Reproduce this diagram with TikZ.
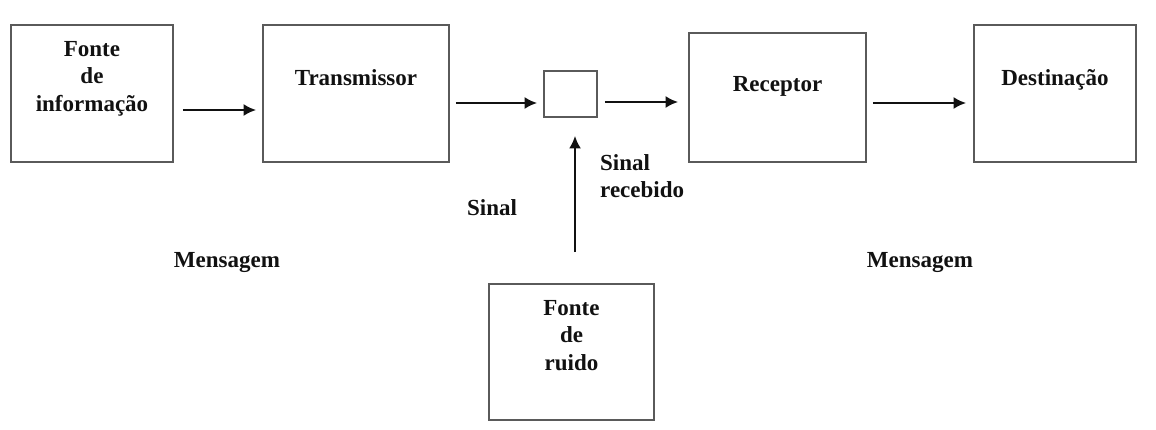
\documentclass[tikz,border=0pt]{standalone}
\usepackage{fontspec}
\setmainfont{Liberation Serif}
\usetikzlibrary{arrows.meta,positioning}
\definecolor{commframe}{HTML}{5A5A5A}
\definecolor{commink}{HTML}{111111}
\tikzset{
  commbox/.style={draw=commframe,line width=1.8pt,fill=white,inner sep=0pt},
  commtext/.style={font=\fontsize{23}{27.5}\selectfont\bfseries,text=commink,
    align=center,inner sep=0pt},
  commarrow/.style={draw=commink,line width=2pt,-{Latex[length=4.4mm,width=4.2mm]}},
}
\begin{document}
\begin{tikzpicture}[x=1pt,y=-1pt]
  \path[use as bounding box,fill=white] (0,0) rectangle (1156,430);
  % blocos do sistema
  \node[commbox,minimum width=162pt,minimum height=137pt,
    label={[commtext,anchor=north,yshift=-17pt]north:Fonte\\de\\informação}] (src) at (92,93.5) {};
  \node[commbox,minimum width=186pt,minimum height=137pt,
    label={[commtext,anchor=north,yshift=-45pt]north:Transmissor}] (tx) at (356,93.5) {};
  \node[commbox,minimum width=53pt,minimum height=46pt] (chan) at (570.5,94) {};
  \node[commbox,minimum width=177pt,minimum height=129pt,
    label={[commtext,anchor=north,yshift=-44pt]north:Receptor}] (rx) at (777.5,97.5) {};
  \node[commbox,minimum width=162pt,minimum height=137pt,
    label={[commtext,anchor=north,yshift=-45pt]north:Destinação}] (dst) at (1055,93.5) {};
  \node[commbox,minimum width=165pt,minimum height=136pt,
    label={[commtext,anchor=north,yshift=-17pt]north:Fonte\\de\\ruido}] (noise) at (571.5,352) {};
  % ligações
  \draw[commarrow] ([xshift=9pt,yshift=-16.5pt]src.east) -- ([xshift=-6pt,yshift=-16.5pt]tx.west);
  \draw[commarrow] ([xshift=6pt,yshift=-9.5pt]tx.east) -- ([xshift=-6pt,yshift=-9pt]chan.west);
  \draw[commarrow] ([xshift=7pt,yshift=-8pt]chan.east) -- ([xshift=-10pt,yshift=-4.5pt]rx.west);
  \draw[commarrow] ([xshift=6pt,yshift=-5.5pt]rx.east) -- ([xshift=-7pt,yshift=-9.5pt]dst.west);
  \draw[commarrow] ([xshift=3.5pt,yshift=31pt]noise.north) -- ([xshift=4.5pt,yshift=-18pt]chan.south);
  % rótulos
  \node[commtext,anchor=base] (sig) at (492,216) {Sinal};
  \node[commtext,anchor=base west,align=left] (rsig) at (600,198) {Sinal\\recebido};
  \node[commtext,anchor=base] (msgin) at (227,268) {Mensagem};
  \node[commtext,anchor=base] (msgout) at (920,268) {Mensagem};
\end{tikzpicture}
\end{document}
